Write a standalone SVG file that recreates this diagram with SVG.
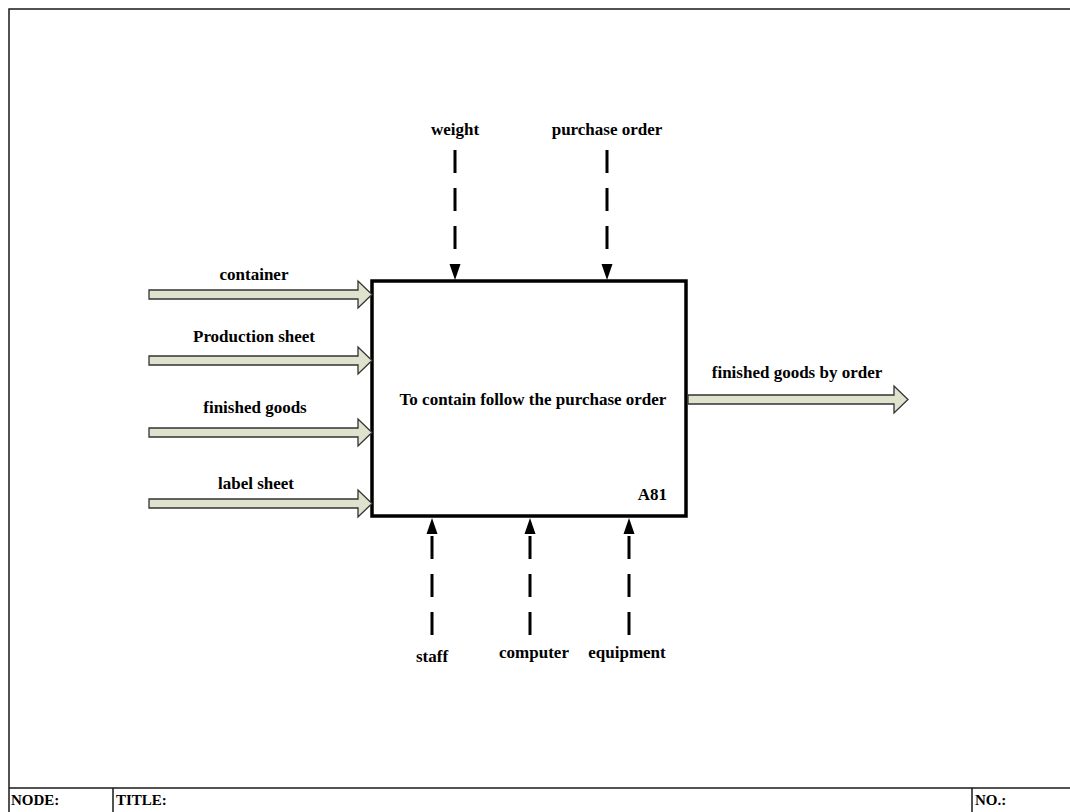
<svg xmlns="http://www.w3.org/2000/svg" width="1070" height="812" viewBox="0 0 1070 812">
  <style>
    text { font-family: "Liberation Serif", "Times New Roman", serif; font-weight: bold; font-size: 17px; fill: #000; }
    .mid { text-anchor: middle; }
    .frame { fill: none; stroke: #1a1a1a; stroke-width: 1.5; }
    .fat { fill: #dfe2cc; stroke: #333; stroke-width: 1.3; stroke-linejoin: miter; }
    .dash { fill: none; stroke: #000; stroke-width: 3; stroke-dasharray: 23 15; }
    .head { fill: #000; }
  </style>

  <rect width="1070" height="812" fill="#fff"/>

  <!-- sheet frame and title strip -->
  <g id="frame">
    <path class="frame" d="M9,812 V9 H1070"/>
    <path class="frame" d="M9,788 H1070 M113,788 V812 M972,788 V812"/>
    <text x="11" y="805" style="font-size:15px">NODE:</text>
    <text x="116" y="805" style="font-size:15px">TITLE:</text>
    <text x="975" y="805" style="font-size:15px">NO.:</text>
  </g>

  <!-- activity box -->
  <g id="activity-a81">
    <rect x="372" y="281" width="314" height="235" fill="#fff" stroke="#000" stroke-width="3.5"/>
    <text class="mid" x="533" y="405">To contain follow the purchase order</text>
    <text x="667" y="500" text-anchor="end">A81</text>
  </g>

  <!-- connectors -->
  <g id="connectors">
    <!-- inputs -->
    <path class="fat" d="M149,290 H358 V281 L372,294.5 L358,308 V299 H149 Z"/>
    <path class="fat" d="M149,356 H358 V347 L372,360.5 L358,374 V365 H149 Z"/>
    <path class="fat" d="M149,428 H358 V419 L372,432.5 L358,446 V437 H149 Z"/>
    <path class="fat" d="M149,499 H358 V490 L372,503.5 L358,517 V508 H149 Z"/>
    <!-- output -->
    <path class="fat" d="M688,395 H894 V386 L908,399.5 L894,413 V404 H688 Z"/>
    <!-- controls -->
    <path class="dash" d="M455,150 V264"/>
    <path class="head" d="M449.5,264 H460.5 L455,280 Z"/>
    <path class="dash" d="M607,150 V264"/>
    <path class="head" d="M601.5,264 H612.5 L607,280 Z"/>
    <!-- mechanisms -->
    <path class="dash" d="M432,635 V530"/>
    <path class="head" d="M426.5,534 H437.5 L432,518 Z"/>
    <path class="dash" d="M530,635 V530"/>
    <path class="head" d="M524.5,534 H535.5 L530,518 Z"/>
    <path class="dash" d="M629,635 V530"/>
    <path class="head" d="M623.5,534 H634.5 L629,518 Z"/>
  </g>

  <!-- arrow labels -->
  <g id="labels">
    <text class="mid" x="254" y="280">container</text>
    <text class="mid" x="254" y="342">Production sheet</text>
    <text class="mid" x="255" y="413">finished goods</text>
    <text class="mid" x="256" y="489">label sheet</text>
    <text class="mid" x="797" y="378">finished goods by order</text>
    <text class="mid" x="455" y="135">weight</text>
    <text class="mid" x="607" y="135">purchase order</text>
    <text class="mid" x="432" y="662">staff</text>
    <text class="mid" x="534" y="658">computer</text>
    <text class="mid" x="627" y="658">equipment</text>
  </g>
</svg>
